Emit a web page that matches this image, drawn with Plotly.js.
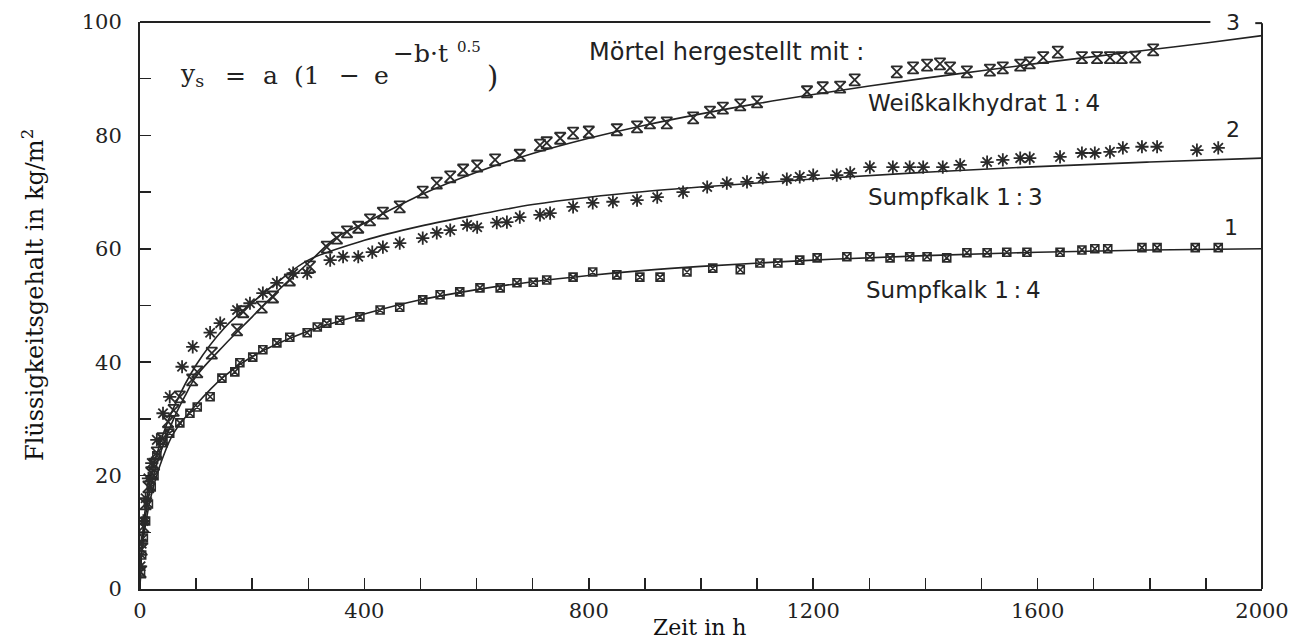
<!DOCTYPE html>
<html><head><meta charset="utf-8">
<script src="https://cdn.plot.ly/plotly-3.0.1.min.js"></script>
<style>html,body{margin:0;padding:0;background:#fff}</style>
</head><body>
<div id="chart" style="width:1304px;height:642px"></div>
<script>
// Series 3: Weißkalkhydrat 1:4 (measured)
const t3 = [1,3,6,10,15,20,25,30,40,50,60,71,93,102,128,173,184,217,237,267,303,333,351,369,389,410,433,463,504,529,553,576,601,633,677,713,725,749,772,800,850,886,909,939,986,1016,1039,1070,1100,1189,1217,1248,1274,1349,1378,1403,1426,1444,1474,1515,1538,1569,1586,1610,1636,1679,1706,1729,1750,1774,1806];
const y3 = [3,7,11,15,18,20.5,22,24,26.5,29.5,31.5,33.9,36.9,38.3,41.6,45.7,48.9,49.7,51.5,54.5,56.8,60.3,61.9,63.0,63.8,65.1,66.3,67.4,70.0,71.6,72.7,73.9,74.6,75.7,76.5,78.3,78.7,79.5,80.4,80.6,81.0,81.5,82.2,82.2,83.1,84.1,84.8,85.4,85.9,87.7,88.4,88.5,89.8,91.2,91.9,92.4,92.6,91.9,91.2,91.5,91.9,92.4,92.8,93.7,94.7,93.7,93.7,93.7,93.7,93.8,95.1];
// Series 2: Sumpfkalk 1:3 (measured)
const t2 = [1,3,6,10,15,21,30,41,53,75,94,125,143,173,196,219,244,273,298,339,362,389,414,433,463,504,529,553,583,601,636,654,677,713,731,772,807,843,886,922,968,1011,1046,1082,1110,1153,1176,1200,1242,1266,1301,1342,1372,1396,1431,1462,1510,1538,1569,1586,1640,1679,1702,1729,1752,1786,1813,1884,1922];
const y2 = [4,8,12,16,19.5,22.2,26.3,31.0,33.9,39.2,42.7,45.2,46.9,49.2,50.4,52.2,54.0,55.7,55.7,58.0,58.6,58.6,59.4,60.3,61.0,61.9,62.8,63.3,64.2,63.8,64.6,64.7,65.6,66.0,66.3,67.4,68.1,68.3,68.6,69.1,70.0,70.9,71.6,71.8,72.5,72.3,72.7,73.0,73.0,73.4,74.4,74.4,74.4,74.4,74.4,74.8,75.3,75.7,76.0,76.0,76.2,76.9,76.9,77.1,77.8,78.0,78.0,77.4,77.8];
// Series 1: Sumpfkalk 1:4 (measured)
const t1 = [1,3,6,10,15,20,25,30,41,53,71,89,102,125,146,169,178,201,219,244,267,298,316,333,356,392,428,463,504,535,570,606,642,672,701,725,772,807,850,891,927,975,1021,1070,1105,1137,1176,1207,1260,1301,1337,1372,1403,1438,1474,1510,1545,1581,1640,1679,1702,1725,1786,1813,1881,1922];
const y1 = [3,6,9,12,15,18,20,23.5,25.8,27.5,29.3,31.0,32.1,33.9,37.2,38.3,39.9,40.9,42.2,43.4,44.4,45.2,46.2,46.9,47.4,48.0,49.2,49.7,51.0,51.9,52.4,53.1,53.1,54.0,54.1,54.5,55.0,55.9,55.4,55.0,55.0,55.9,56.6,56.3,57.5,57.5,58.0,58.4,58.6,58.6,58.4,58.6,58.6,58.4,59.3,59.3,59.4,59.4,59.4,59.8,60.0,60.0,60.2,60.2,60.2,60.2];
// Fitted curves
const tFit3 = [0,2,5,10,20,30,40,60,80,100,150,200,250,300,350,400,500,600,700,800,900,1000,1100,1200,1300,1400,1500,1600,1700,1800,1900,2000];
const yFit3 = [0,5,9,13,18.5,22,25,30,34,37.5,43,48,53,57.5,62,64.5,69.5,73.5,76.8,79.5,81.8,83.8,85.6,87.2,88.7,90.1,91.4,92.7,93.9,95.1,96.3,97.6];
const tFit2 = [0,2,5,10,20,40,60,100,150,200,250,300,400,500,600,700,800,900,1000,1200,1400,1600,1800,2000];
const yFit2 = [0,6,10,14.5,20,27,32,39.5,46,50.5,54.5,58,61.5,64,66,67.8,69.1,70.1,70.9,72.3,73.5,74.5,75.3,76.0];
const tFit1 = [0,2,5,10,20,40,60,100,150,200,300,400,500,600,700,800,900,1000,1200,1400,1600,1800,2000];
const yFit1 = [0,5,8,11.5,16.5,23,27.5,32.5,37.5,41,45.5,48.5,51,52.8,54.2,55.3,56.2,56.9,58,58.8,59.4,59.8,60.0];

const xTickVals = [0,400,800,1200,1600,2000];
const yTickVals = [0,20,40,60,80,100];

const ink = '#222';
const mk = '#2a2a2a';
const serif = 'DejaVu Serif, Liberation Serif, serif';
const sans = 'DejaVu Sans, sans-serif';

const traces = [
  {x:tFit3, y:yFit3, mode:'lines', line:{color:ink, width:1.6, shape:'spline'}, hoverinfo:'skip'},
  {x:tFit2, y:yFit2, mode:'lines', line:{color:ink, width:1.6, shape:'spline'}, hoverinfo:'skip'},
  {x:tFit1, y:yFit1, mode:'lines', line:{color:ink, width:1.6, shape:'spline'}, hoverinfo:'skip'},
  {x:t3, y:y3, mode:'markers', marker:{symbol:'hourglass-open', size:11, color:mk, line:{width:1.8, color:mk}}, name:'Weißkalkhydrat 1:4'},
  {x:t2, y:y2, mode:'markers', marker:{symbol:'asterisk-open', size:11, color:mk, line:{width:1.8, color:mk}}, name:'Sumpfkalk 1:3'},
  {x:t1, y:y1, mode:'markers', marker:{symbol:'square-x-open', size:8, color:mk, line:{width:1.6, color:mk}}, name:'Sumpfkalk 1:4'}
];

const th = '\u2009';
const px = v => (v - 140) / 1122;
const py = v => (589 - v) / 567;
const ann = (text, x, y, opts={}) => Object.assign({text, x, y, xref:'paper', yref:'paper', showarrow:false, xanchor:'left', yanchor:'middle', font:{family:sans, size:23, color:ink}}, opts);
const fs = (size) => ({family:serif, size, color:ink});

const layout = {
  width:1304, height:642,
  margin:{l:140, r:42, t:22, b:53},
  paper_bgcolor:'#fff', plot_bgcolor:'#fff',
  showlegend:false,
  xaxis:{range:[0,2000], tickvals:xTickVals, ticks:'inside', ticklen:11, tickwidth:1.5, tickcolor:ink,
         minor:{dtick:100, tick0:0, ticks:'inside', ticklen:11, tickwidth:1.5, tickcolor:ink, showgrid:false},
         showline:true, linewidth:2, linecolor:ink, showgrid:false, zeroline:false,
         tickfont:{family:serif, size:21, color:ink}, ticklabelstandoff:2},
  yaxis:{range:[0,100], tickvals:yTickVals, ticks:'inside', ticklen:11, tickwidth:1.5, tickcolor:ink,
         minor:{dtick:10, tick0:0, ticks:'inside', ticklen:11, tickwidth:1.5, tickcolor:ink, showgrid:false},
         showline:true, linewidth:2, linecolor:ink, showgrid:false, zeroline:false,
         tickfont:{family:serif, size:21, color:ink}, ticklabelstandoff:12},
  shapes:[
    {type:'line', xref:'paper', yref:'paper', x0:0, x1:0.954, y0:1, y1:1, line:{color:ink, width:2}},
    {type:'line', xref:'paper', yref:'paper', x0:0.994, x1:1, y0:0.998, y1:0.998, line:{color:ink, width:2}},
    {type:'line', xref:'paper', yref:'paper', x0:1, x1:1, y0:0, y1:0.998, line:{color:ink, width:2}}
  ],
  annotations:[
    ann('y<sub>s</sub>', px(178), py(75), {font:fs(25)}),
    ann('=', px(235), py(75), {xanchor:'center', font:fs(25)}),
    ann('a', px(270), py(75), {xanchor:'center', font:fs(25)}),
    ann('(1', px(292), py(75), {font:fs(25)}),
    ann('−', px(349), py(75), {xanchor:'center', font:fs(25)}),
    ann('e', px(381), py(75), {xanchor:'center', font:fs(25)}),
    ann('−b·t', px(391), py(53), {font:fs(25)}),
    ann('0.5', px(455), py(47), {font:fs(15)}),
    ann(')', px(492), py(77), {xanchor:'center', font:fs(29)}),
    ann('Mörtel hergestellt mit :', px(587), py(52), {font:{family:sans, size:24, color:ink}}),
    ann('Weißkalkhydrat 1'+th+':'+th+'4', px(866), py(103)),
    ann('Sumpfkalk 1'+th+':'+th+'3', px(866), py(197)),
    ann('Sumpfkalk 1'+th+':'+th+'4', px(864), py(290)),
    ann('3', px(1233), py(22), {xanchor:'center', font:{family:sans, size:22, color:ink}}),
    ann('2', px(1233), py(129), {xanchor:'center', font:{family:sans, size:22, color:ink}}),
    ann('1', px(1231), py(227), {xanchor:'center', font:{family:sans, size:22, color:ink}}),
    ann('Flüssigkeitsgehalt in kg/m<sup>2</sup>', px(33), py(295), {xanchor:'center', textangle:-90, font:{family:serif, size:24, color:'#111'}}),
    ann('Zeit in h', px(700), py(627), {xanchor:'center', font:{family:serif, size:22, color:'#111'}})
  ]
};

Plotly.newPlot('chart', traces, layout, {displayModeBar:false, staticPlot:true});
</script>
</body></html>
